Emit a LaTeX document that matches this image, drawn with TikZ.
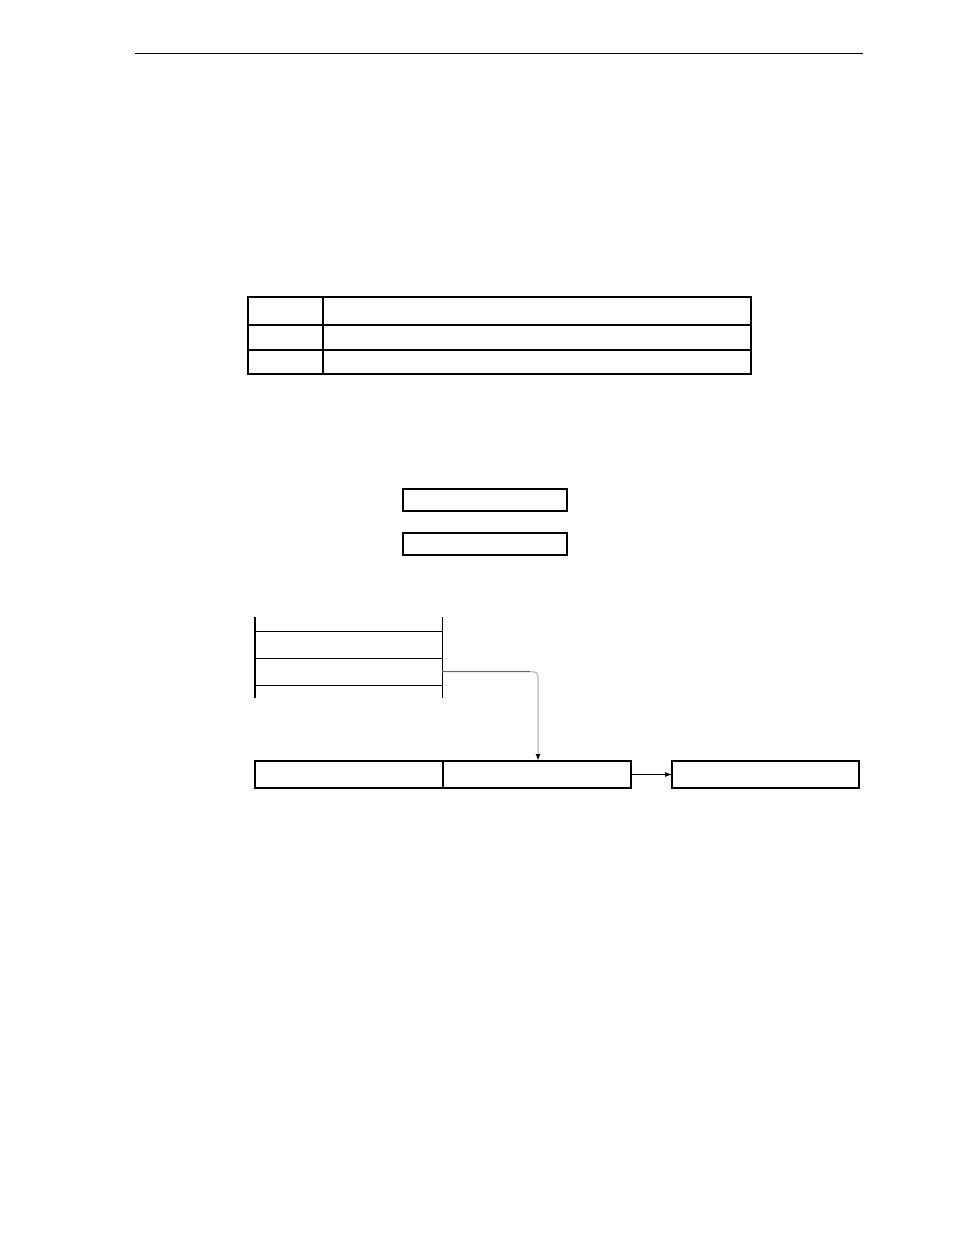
\documentclass[tikz,border=0pt]{standalone}
\usetikzlibrary{positioning,arrows.meta}
\begin{document}
\begin{tikzpicture}[x=1pt, y=-1pt, line width=1pt,
	cell/.style = {draw, line width=2pt, inner sep=0pt, outer sep=0pt, minimum height=#1},
	cell/.default = 27pt,
	slot/.style = {inner sep=0pt, outer sep=0pt, minimum width=187pt, minimum height=27pt},
	box/.style = {draw, line width=1.5pt, inner sep=0pt, outer sep=0pt, minimum width=164pt, minimum height=22pt}]
	\useasboundingbox (0,0) rectangle (954,1235);
	% header rule
	\draw (135,53) -- (863,53);
	% table
	\node[cell=28pt, minimum width=75pt] (tA) at (285.5,311) {};
	\node[cell=28pt, minimum width=428pt] (tB) [right=0pt of tA] {};
	\node[cell=25pt, minimum width=75pt] (mA) [below=0pt of tA] {};
	\node[cell=25pt, minimum width=428pt] (mB) [right=0pt of mA] {};
	\node[cell=24pt, minimum width=75pt] (bA) [below=0pt of mA] {};
	\node[cell=24pt, minimum width=428pt] (bB) [right=0pt of bA] {};
	% two boxes
	\node[box] (r1) at (485,500) {};
	\node[box] (r2) [below=22pt of r1] {};
	% stack
	\node[slot] (s1) at (348.5,644.5) {};
	\node[slot] (s2) [below=0pt of s1] {};
	\draw[line width=2pt] (255,617) -- (255,698);
	\draw (442,617) -- (442,698);
	\foreach \y in {631,658,685}
		\draw (255,\y) -- (442,\y);
	% register
	\node[cell, minimum width=188pt] (gA) at (349,774.5) {};
	\node[cell, minimum width=188pt] (gB) [right=0pt of gA] {};
	\node[cell, line width=1.5pt, minimum width=187pt] (out) [right=41pt of gB] {};
	\draw[gray!45, line width=1.5pt, rounded corners=5pt, -{Latex[black,length=7pt,width=5pt]}] (s2.east) -| ([xshift=1pt]gB.north);
	\draw[gray!80!black] (s2.east) -- ++(88,0);
	\draw[-{Latex[length=7pt,width=5pt]}] (gB.east) -- (out.west);
\end{tikzpicture}
\end{document}
